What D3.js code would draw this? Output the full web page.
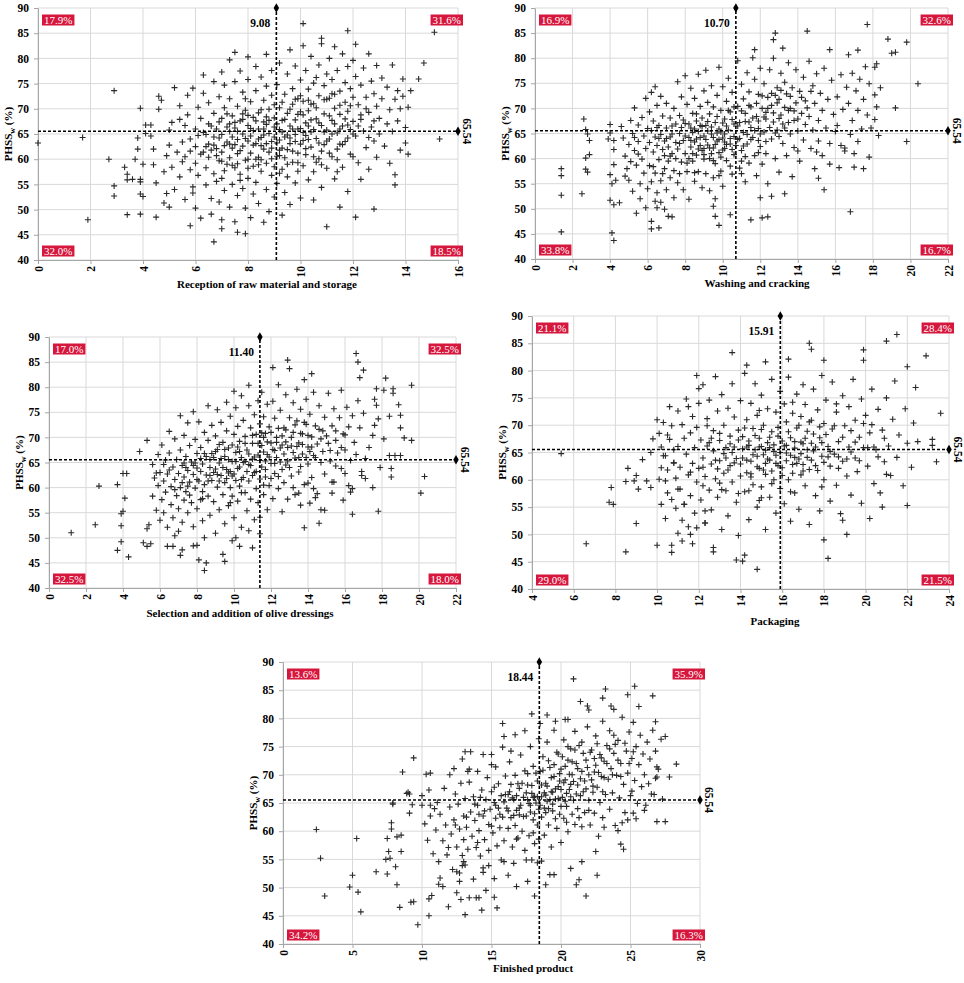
<!DOCTYPE html>
<html lang="en">
<head>
<meta charset="UTF-8">
<title>PHSSw vs stage scores</title>
<style>
  body { margin: 0; background: #fff; }
  svg text { font-family: "Liberation Serif", "DejaVu Serif", serif; }
</style>
</head>
<body>
<div id="wrapper"></div>
<script src="https://d3js.org/d3.v7.min.js"></script>
<script>
// ---- data ----
const yTicks = [40, 45, 50, 55, 60, 65, 70, 75, 80, 85, 90];
const receptionTicks = [0, 2, 4, 6, 8, 10, 12, 14, 16];
const washingTicks = [0, 2, 4, 6, 8, 10, 12, 14, 16, 18, 20, 22];
const selectionTicks = [0, 2, 4, 6, 8, 10, 12, 14, 16, 18, 20, 22];
const packagingTicks = [4, 6, 8, 10, 12, 14, 16, 18, 20, 22, 24];
const finishedTicks = [0, 5, 10, 15, 20, 25, 30];

const meanPHSS = 65.54;
const stageMeans = [9.08, 10.70, 11.40, 15.91, 18.44];
const stageTitles = ["Reception of raw material and storage", "Washing and cracking",
  "Selection and addition of olive dressings", "Packaging", "Finished product"];
// quadrant shares: top-left, top-right, bottom-left, bottom-right
const receptionShares = ["17.9%", "31.6%", "32.0%", "18.5%"];
const washingShares = ["16.9%", "32.6%", "33.8%", "16.7%"];
const selectionShares = ["17.0%", "32.5%", "32.5%", "18.0%"];
const packagingShares = ["21.1%", "28.4%", "29.0%", "21.5%"];
const finishedShares = ["13.6%", "35.9%", "34.2%", "16.3%"];

const receptionPoints = [
  [0.0,63.2],[1.7,64.3],[1.9,48.0],[2.9,73.6],[2.7,60.0],[2.9,54.7],[2.9,52.7],[3.4,49.0],[3.9,70.1],[15.1,85.2],[14.7,79.1],[14.5,75.9],[15.3,64.0],[10.1,86.9],[11.8,85.5],[10.8,84.0],[7.5,81.2],[6.7,43.6],[11.0,46.6],[12.8,50.1],[12.1,48.5],[11.5,50.5],[5.8,46.8],[7.6,45.5],[7.9,45.2],[7.0,46.2],[13.6,54.9],[14.0,63.2],[13.9,75.9],
  [3.3,58.4],[3.4,57.0],[3.6,56.0],[3.4,55.9],[3.7,60.0],[3.8,64.2],[3.8,62.0],[3.9,56.0],[3.9,53.1],[3.9,55.5],[3.9,49.1],[4.0,52.6],[4.0,59.0],[4.1,66.8],[4.1,65.1],
  [4.3,66.8],[4.3,64.6],[4.4,62.0],[4.4,58.9],[4.5,55.3],[4.6,69.9],[4.6,72.5],[4.7,71.7],[4.8,57.5],[4.9,60.7],[4.9,53.2],[5.0,65.8],[5.0,62.8],[5.0,50.5],[5.1,67.3],[5.1,58.4],[5.2,74.2],[5.2,54.0],[4.5,48.5],[4.8,51.3],
  [5.3,61.4],[5.4,70.6],[5.4,56.5],[5.5,63.4],[5.5,59.5],[5.6,66.7],[5.6,52.0],[5.7,72.7],[5.7,68.8],[5.8,64.0],[5.8,61.6],[5.8,57.9],[5.9,54.5],[5.9,74.1],[6.0,66.0],[6.0,62.5],[6.0,59.2],[6.0,50.3],[6.1,70.3],[6.1,64.7],[6.1,56.8],[6.2,48.3],[6.2,68.1],[6.2,61.0],[5.4,67.9],[5.6,60.5],[5.9,53.3],
  [6.3,76.7],[6.3,73.1],[6.3,65.3],[6.4,58.3],[6.4,54.9],[6.5,71.2],[6.5,67.0],[6.5,63.0],[6.5,60.4],[6.6,52.2],[6.6,49.1],[6.7,75.4],[6.7,69.1],[6.7,64.4],[6.7,57.1],[6.8,62.1],[6.8,55.6],[6.8,66.0],[6.9,72.4],[6.9,59.7],[6.9,51.5],[7.0,77.3],[7.0,68.1],[7.0,64.9],[7.0,61.4],[7.0,48.0],[7.1,74.7],[7.1,70.2],[7.1,57.7],[7.1,53.8],[7.2,66.4],[7.2,63.4],[6.4,62.5],[6.6,66.6],[6.8,60.7],[6.9,64.2],[7.0,56.2],[7.2,59.0],[6.3,61.4],
  [7.3,79.7],[7.3,72.0],[7.3,65.5],[7.3,60.3],[7.3,50.5],[7.4,68.6],[7.4,62.2],[7.4,55.0],[7.5,75.4],[7.5,66.2],[7.5,58.3],[7.5,47.6],[7.6,70.5],[7.6,63.9],[7.6,61.1],[7.6,52.8],[7.7,77.5],[7.7,67.6],[7.7,57.0],[7.8,73.3],[7.8,65.0],[7.8,62.6],[7.8,54.2],[7.9,69.7],[7.9,59.8],[7.9,50.3],[8.0,80.3],[8.0,75.8],[8.0,66.7],[8.0,63.6],[8.0,56.2],[8.1,71.4],[8.1,61.2],[8.1,48.4],[8.2,68.3],[8.2,58.6],[8.2,53.1],[7.4,64.4],[7.6,59.1],[7.8,67.9],[8.0,60.0],[8.1,64.6],[7.5,62.9],[7.7,55.8],[7.9,72.0],[8.2,65.7],
  [8.3,78.4],[8.3,73.6],[8.3,63.1],[8.3,55.4],[8.4,69.2],[8.4,66.0],[8.4,60.4],[8.4,51.2],[8.5,76.3],[8.5,64.3],[8.5,57.6],[8.6,71.7],[8.6,67.4],[8.6,62.0],[8.6,47.5],[8.7,80.8],[8.7,74.5],[8.7,59.2],[8.7,54.0],[8.8,69.9],[8.8,65.1],[8.8,61.4],[8.8,49.6],[8.9,77.6],[8.9,72.7],[8.9,63.5],[8.9,56.8],[9.0,68.2],[9.0,66.4],[9.0,58.5],[9.0,52.5],[8.5,62.7],[8.7,66.9],[8.9,60.1],[8.4,58.9],[8.6,64.8],
  [9.1,74.8],[9.1,63.2],[9.1,55.2],[9.2,79.1],[9.2,70.2],[9.2,65.9],[9.2,60.7],[9.3,67.7],[9.3,58.0],[9.3,48.9],[9.4,72.9],[9.4,64.4],[9.4,53.4],[9.5,76.9],[9.5,69.1],[9.5,61.9],[9.5,56.5],[9.6,81.7],[9.6,66.6],[9.6,63.1],[9.6,51.0],[9.7,74.0],[9.7,70.9],[9.7,59.4],[9.8,78.5],[9.8,67.8],[9.8,64.9],[9.8,55.3],[9.9,72.0],[9.9,61.2],[9.9,57.6],[10.0,75.7],[10.0,69.4],[10.0,66.1],[10.0,52.3],[9.3,62.2],[9.5,64.8],[9.7,66.0],[9.9,68.9],[9.2,57.2],
  [10.1,82.5],[10.1,71.5],[10.1,63.7],[10.1,58.7],[10.2,77.6],[10.2,67.2],[10.2,60.9],[10.3,73.9],[10.3,69.6],[10.3,55.9],[10.4,80.4],[10.4,65.4],[10.4,62.4],[10.5,75.1],[10.5,71.0],[10.5,57.5],[10.5,51.9],[10.6,68.0],[10.6,64.1],[10.7,78.7],[10.7,72.6],[10.7,60.1],[10.8,66.7],[10.8,54.4],[10.8,82.9],[10.9,74.6],[10.9,69.0],[10.9,62.9],[11.0,76.9],[11.0,65.8],[11.0,58.2],[10.2,64.7],[10.4,70.9],[10.6,76.2],[10.8,61.6],[11.0,71.9],[10.3,66.6],[10.6,59.4],
  [11.1,80.0],[11.1,72.1],[11.1,64.0],[11.2,75.8],[11.2,67.7],[11.2,60.5],[11.3,82.3],[11.3,70.1],[11.3,56.1],[11.4,77.6],[11.4,65.2],[11.4,62.0],[11.5,73.5],[11.5,68.9],[11.6,80.9],[11.6,66.6],[11.6,58.4],[11.7,75.2],[11.7,71.3],[11.7,63.5],[11.8,78.4],[11.8,69.5],[11.8,53.6],[11.9,74.0],[11.9,65.9],[11.9,61.0],[12.0,79.6],[12.0,72.3],[12.0,67.5],[11.2,73.0],[11.5,63.0],[11.8,66.8],[11.4,57.5],
  [12.1,82.8],[12.1,76.4],[12.1,64.6],[12.2,70.8],[12.2,59.3],[12.3,74.7],[12.3,67.9],[12.3,56.0],[12.4,78.1],[12.4,65.6],[12.5,72.3],[12.5,62.3],[12.6,80.9],[12.6,69.3],[12.6,58.0],[12.7,75.5],[12.7,66.4],[12.8,73.0],[12.8,63.6],[12.9,78.6],[12.9,70.5],[12.9,60.4],[13.0,68.1],[13.0,65.0],[12.2,66.6],[12.5,70.0],[12.8,67.6],
  [13.1,76.1],[13.1,72.0],[13.2,62.6],[13.3,74.3],[13.3,67.0],[13.4,69.8],[13.4,59.2],[13.5,78.7],[13.5,65.5],[13.6,71.9],[13.6,56.9],[13.7,73.6],[13.7,67.6],[13.8,70.0],[13.8,61.8],[13.9,72.5],[14.0,66.3],[14.1,70.3],[14.1,61.0],[14.2,73.6],
  [6.4,64.9],[6.6,61.8],[6.9,67.4],[7.1,62.7],[7.2,69.0],[7.3,63.0],[7.4,58.8],[7.5,67.3],[7.6,65.5],[7.7,61.7],[7.8,69.0],[7.9,64.1],[8.0,58.2],[8.1,66.1],[8.2,62.8],[8.3,67.6],[8.3,60.0],[8.4,64.0],[8.5,69.8],[8.5,59.9],[8.6,66.0],[8.7,63.1],[8.8,67.7],[8.9,62.2],[9.0,64.4],[9.0,70.8],[9.1,60.6],[9.1,67.0],[9.2,63.8],[9.3,71.3],[9.3,65.4],[9.4,60.3],[9.4,67.9],[9.5,59.0],[9.6,64.2],[9.6,69.9],[9.7,61.6],[9.8,63.5],[9.8,71.9],[9.9,66.0],[9.9,59.3],[10.0,63.0],[10.0,72.6],[10.1,65.3],[10.1,68.8],[10.2,62.1],[10.3,71.7],[10.3,63.9],[10.4,67.8],[10.5,60.5],[10.5,65.9],[10.6,70.2],[10.7,63.2],[10.7,67.2],[10.8,58.9],[10.9,65.4],[10.9,71.8],[11.0,63.6],[11.1,68.6],[11.1,61.2],[11.2,65.0],[11.3,72.9],[11.3,67.0],[11.4,59.9],[11.5,66.0],[11.5,70.7],[11.6,62.9],[11.7,68.0],[11.8,64.2],[11.9,70.6],[12.0,65.0],[12.0,60.5],[7.0,59.6],[6.7,62.8],[7.3,67.0],[8.0,68.7],[8.7,68.4],[9.2,61.8],[12.3,68.8],[12.6,64.3]
];

const washingPoints = [
  [1.4,58.0],[1.4,56.6],[1.4,52.7],[1.4,45.4],[2.5,53.0],[2.6,67.9],[2.7,65.8],[2.8,64.9],[2.9,63.6],[2.7,60.1],[2.9,60.8],[2.7,57.9],[2.8,57.3],[4.0,66.8],[3.9,63.9],[4.0,65.1],[4.2,63.6],[4.2,61.8],[4.0,56.8],[4.2,58.8],[4.3,55.7],[4.0,51.7],[4.2,50.8],[4.1,45.2],[4.2,43.7],[4.5,51.2],[4.1,55.0],
  [17.7,86.7],[20.4,74.9],[19.8,83.2],[18.8,83.8],[19.2,81.2],[19.0,81.0],[19.8,63.4],[16.8,49.4],[17.0,58.3],[17.8,60.3],[18.3,64.6],[18.1,67.8],[18.2,70.3],[18.1,72.7],[18.4,74.1],[18.1,78.2],[18.2,78.9],[19.2,70.1],
  [14.5,85.4],[12.8,85.0],[12.7,83.7],[11.7,81.7],[13.2,82.0],[15.7,81.7],[17.2,81.6],[16.7,80.7],
  [11.5,47.8],[12.1,48.2],[12.4,48.4],[9.8,46.7],[9.6,48.5],[10.4,48.8],[9.5,50.5],[6.2,47.5],[6.2,46.0],[6.6,46.2],[7.1,48.5],[7.3,48.4],[6.4,51.5],[6.7,51.3],[6.9,49.9],[6.5,50.2],[15.4,53.8],[16.5,62.1],[16.5,61.5],[15.1,56.1],[12.0,52.2],[12.6,52.5],[13.3,53.0],
  [4.6,66.4],[4.7,64.1],[4.8,60.5],[4.9,58.0],[5.0,62.8],[5.0,55.7],[5.1,67.6],[5.2,65.0],[5.2,53.5],[5.3,70.1],[5.3,61.6],[5.4,58.7],[5.4,49.1],[5.5,66.7],[5.5,63.4],[5.6,55.0],[5.6,52.0],[5.7,68.2],[5.7,59.9],[5.8,64.5],[5.8,57.1],[5.9,72.0],[5.9,62.0],[6.0,66.0],[6.0,54.0],[4.8,56.5],[5.1,59.4],[5.5,60.9],[5.9,50.2],[5.3,64.2],
  [6.1,69.3],[6.1,63.2],[6.1,58.6],[6.2,73.2],[6.2,65.6],[6.2,55.4],[6.3,67.5],[6.3,61.3],[6.4,74.3],[6.4,64.3],[6.4,57.1],[6.5,70.6],[6.5,62.6],[6.5,53.2],[6.6,66.6],[6.6,59.8],[6.7,72.4],[6.7,64.8],[6.7,55.6],[6.8,68.5],[6.8,61.8],[6.9,63.5],[6.9,58.0],[7.0,71.0],[7.0,66.1],[7.0,53.8],[7.1,62.3],[7.1,59.5],[7.2,68.1],[7.2,56.2],[7.3,64.9],[7.3,61.0],[7.4,70.0],[7.4,57.6],[7.5,66.9],[7.5,63.2],[6.3,58.4],[6.8,57.0],[7.2,60.5],[6.6,64.0],[7.4,52.2],
  [7.6,75.3],[7.6,61.9],[7.6,55.2],[7.7,68.6],[7.7,65.0],[7.8,72.3],[7.8,59.3],[7.9,63.6],[7.9,53.8],[8.0,76.5],[8.0,67.0],[8.0,61.0],[8.1,70.8],[8.1,57.4],[8.2,64.2],[8.2,51.9],[8.3,74.0],[8.3,66.1],[8.3,62.3],[8.4,69.0],[8.4,59.5],[8.5,72.0],[8.5,63.3],[8.5,55.5],[8.6,67.5],[8.6,60.7],[8.7,76.8],[8.7,65.4],[8.7,57.4],[8.8,70.4],[8.8,62.6],[8.9,68.1],[8.9,54.2],[9.0,73.5],[9.0,64.5],[9.0,59.9],[7.8,66.2],[8.2,60.0],[8.6,63.9],[8.9,61.6],[7.7,57.0],[8.4,65.2],[8.8,66.6],[9.0,62.0],
  [9.1,77.6],[9.1,66.6],[9.1,57.0],[9.2,71.2],[9.2,62.7],[9.3,68.9],[9.3,60.0],[9.3,53.6],[9.4,74.5],[9.4,64.9],[9.5,70.3],[9.5,62.1],[9.5,56.2],[9.6,67.2],[9.6,59.0],[9.7,72.6],[9.7,63.5],[9.8,78.2],[9.8,65.9],[9.8,61.2],[9.9,69.6],[9.9,57.5],[10.0,74.3],[10.0,64.1],[10.0,54.5],[10.1,67.9],[10.1,62.0],[10.2,71.4],[10.2,59.6],[10.3,76.0],[10.3,65.7],[10.4,69.3],[10.4,62.9],[10.5,73.2],[10.5,56.9],[10.6,66.9],[10.6,60.8],[9.4,61.0],[9.7,65.1],[10.1,63.3],[10.4,58.5],[9.2,65.5],[9.9,60.3],[10.6,64.4],[9.6,52.0],
  [10.8,79.5],[10.8,70.4],[10.8,63.8],[10.9,67.2],[10.9,58.1],[11.0,74.8],[11.0,61.6],[11.1,71.9],[11.1,65.2],[11.2,69.0],[11.2,55.4],[11.3,77.1],[11.3,62.9],[11.4,73.3],[11.4,67.3],[11.4,59.1],[11.5,70.3],[11.6,80.1],[11.6,64.2],[11.7,75.8],[11.7,60.6],[11.8,68.4],[11.8,56.6],[11.9,72.8],[11.9,66.0],[12.0,78.0],[12.0,62.4],[12.1,70.0],[12.1,58.9],[12.2,74.9],[12.2,65.3],[12.3,67.9],[12.3,61.0],[12.4,72.2],[12.4,55.0],[12.5,77.7],[11.2,60.4],[11.5,66.2],[11.9,63.6],[12.3,69.2],[11.0,57.0],
  [12.6,70.6],[12.6,63.9],[12.7,80.0],[12.7,67.3],[12.8,60.0],[12.9,74.1],[12.9,65.7],[13.0,71.8],[13.0,57.3],[13.1,77.0],[13.1,68.7],[13.2,63.0],[13.3,75.2],[13.3,66.1],[13.4,72.9],[13.4,60.6],[13.5,79.1],[13.5,69.6],[13.6,64.9],[13.7,74.1],[13.7,56.4],[13.8,67.6],[13.8,62.2],[13.9,77.7],[13.9,71.1],[14.0,65.5],[14.1,73.4],[14.1,59.5],[14.2,69.0],[14.3,76.2],[14.3,63.7],[14.4,71.5],[14.4,66.8],[13.0,64.4],[13.6,70.0],[14.0,61.5],[12.8,72.6],
  [14.6,79.4],[14.6,68.4],[14.7,62.0],[14.8,74.5],[14.8,65.7],[14.9,71.0],[14.9,58.0],[15.0,76.9],[15.1,67.6],[15.1,63.5],[15.2,73.0],[15.3,69.6],[15.3,60.6],[15.4,78.0],[15.5,66.1],[15.6,71.8],[15.7,63.0],[15.8,75.6],[15.9,68.8],[16.0,65.4],[16.1,72.3],[16.2,58.2],[16.3,76.7],[16.3,62.6],[16.4,69.8],[15.0,61.3],[15.7,58.9],[16.1,66.6],
  [16.6,74.2],[16.7,71.0],[16.8,64.8],[16.9,77.0],[16.9,67.6],[17.0,61.0],[17.1,73.5],[17.2,69.6],[17.3,75.8],[17.4,65.9],[17.5,71.8],[17.6,78.3],[17.7,68.7],[17.8,74.9],[17.9,66.1],[17.2,63.4],[17.5,58.0],
  [7.0,64.0],[7.3,66.5],[7.5,60.0],[7.7,63.0],[7.9,67.7],[8.0,64.5],[8.1,59.1],[8.2,66.9],[8.3,63.6],[8.4,61.0],[8.5,65.9],[8.6,68.9],[8.7,61.9],[8.8,64.2],[8.9,66.4],[9.0,60.8],[9.1,63.8],[9.2,67.4],[9.3,62.1],[9.4,66.3],[9.5,64.2],[9.5,59.6],[9.6,62.8],[9.7,68.4],[9.8,63.8],[9.9,65.3],[10.0,61.7],[10.0,67.1],[10.1,64.9],[10.2,66.5],[10.2,62.8],[10.3,69.6],[10.4,64.0],[10.5,61.8],[10.5,67.8],[10.6,70.3],[10.7,62.6],[10.8,66.5],[10.9,64.0],[11.0,69.5],[11.1,62.5],[11.2,67.4],[11.3,64.8],[11.4,70.6],[11.5,63.8],[11.6,68.1],[11.7,65.6],[11.8,71.0],[11.9,67.5],[12.0,64.9],[12.1,72.5],[12.2,68.3],[12.3,63.4],[12.4,70.0],[12.5,66.2],[12.6,73.0],[12.7,69.1],[12.8,65.1],[12.9,71.1],[13.0,68.0],[13.1,73.6],[13.2,66.9],[13.3,70.2],[13.5,67.2],[13.6,72.4],[13.8,69.5],[14.0,67.9],[14.2,72.2],[14.5,70.1],[14.7,73.4],[6.5,66.2],[6.9,60.6],[7.2,64.3],[11.0,59.5],[11.9,61.2],[8.5,57.2],[9.8,56.6]
];

const selectionPoints = [
  [1.2,51.0],[2.5,52.6],[2.7,60.3],[3.7,60.6],[3.7,47.5],[3.9,49.2],[3.9,52.4],[3.9,54.8],[4.0,55.3],[4.0,62.8],[4.2,62.8],[4.1,57.9],[4.3,46.2],[4.9,67.2],[5.1,49.0],[5.3,69.4],[5.3,48.3],[5.5,48.8],[5.3,51.8],[5.4,52.6],
  [16.6,86.7],[16.7,85.0],[17.0,83.4],[16.8,81.9],[12.9,85.4],[13.0,83.7],[12.1,83.9],[14.2,82.7],[13.8,81.5],[19.6,80.4],[18.2,81.8],[18.6,79.7],[17.7,79.7],[20.3,62.2],[20.1,58.9],[17.8,55.3],[16.4,54.7],[14.6,52.9],[13.8,52.0],[10.0,79.2],[10.8,80.4],[19.6,69.4],[19.2,69.9],
  [8.4,43.5],[8.5,45.0],[8.1,45.6],[9.5,45.3],[9.4,46.7],[8.0,48.5],[8.4,50.0],[6.8,50.4],[6.4,48.3],[6.7,48.3],[7.1,46.5],[7.2,47.6],[7.8,48.4],[9.9,49.4],[10.1,50.0],[10.3,48.3],[11.0,48.0],[10.8,51.4],[11.4,50.8],[11.4,54.1],
  [5.6,64.6],[5.6,58.3],[5.7,61.9],[5.8,55.5],[5.9,66.6],[5.9,60.4],[6.0,63.0],[6.0,53.5],[6.1,57.6],[6.1,68.5],[6.2,61.3],[6.2,55.0],[6.3,65.5],[6.3,59.1],[6.4,62.7],[6.4,52.1],[6.5,71.2],[6.5,66.9],[6.6,60.2],[6.6,56.6],[6.7,64.1],[6.7,54.0],[6.8,69.7],[6.8,61.6],[6.9,58.4],[6.9,65.6],[7.0,62.8],[7.0,55.8],[5.8,62.9],[6.2,64.6],[6.5,63.5],[6.8,59.6],[7.0,51.3],
  [7.1,74.3],[7.1,67.5],[7.1,60.0],[7.2,64.4],[7.2,53.1],[7.3,70.4],[7.3,62.1],[7.3,57.5],[7.4,66.2],[7.4,59.2],[7.5,72.9],[7.5,63.4],[7.5,55.0],[7.6,68.4],[7.6,61.1],[7.7,65.1],[7.7,57.0],[7.8,75.1],[7.8,62.6],[7.8,52.2],[7.9,69.6],[7.9,59.9],[8.0,66.8],[8.0,63.9],[8.0,55.8],[8.1,73.1],[8.1,61.3],[8.2,68.0],[8.2,57.6],[8.3,64.7],[8.3,53.4],[8.4,71.0],[8.4,60.6],[8.5,66.2],[8.5,62.5],[7.4,64.0],[7.9,64.9],[8.3,59.2],[7.6,58.5],[8.2,65.8],[7.2,61.0],
  [8.6,76.3],[8.6,69.4],[8.6,58.3],[8.7,64.0],[8.7,54.5],[8.8,72.4],[8.8,66.8],[8.8,61.4],[8.9,57.2],[9.0,70.3],[9.0,63.7],[9.0,50.9],[9.1,75.5],[9.1,67.6],[9.1,60.1],[9.2,64.9],[9.2,55.6],[9.3,73.0],[9.3,62.4],[9.4,69.0],[9.4,58.6],[9.5,66.2],[9.5,61.0],[9.5,52.8],[9.6,77.0],[9.6,71.3],[9.6,63.6],[9.7,67.9],[9.7,56.4],[9.8,74.2],[9.8,60.0],[9.9,65.2],[9.9,62.3],[10.0,70.6],[10.0,54.0],[8.9,66.0],[9.3,65.8],[9.7,62.9],[9.2,68.6],[8.7,62.4],[9.9,58.3],
  [10.1,75.9],[10.1,67.0],[10.1,61.4],[10.2,72.2],[10.2,57.3],[10.3,69.2],[10.3,64.1],[10.4,78.3],[10.4,66.0],[10.4,52.1],[10.5,73.4],[10.5,62.0],[10.6,70.2],[10.6,59.0],[10.7,67.5],[10.7,55.4],[10.8,76.3],[10.8,64.6],[10.8,61.3],[10.9,71.9],[10.9,57.7],[11.0,68.8],[11.0,65.7],[11.1,74.5],[11.1,63.0],[11.1,53.6],[11.2,70.6],[11.2,59.8],[11.3,77.3],[11.3,66.5],[11.4,72.7],[11.4,61.7],[10.3,60.3],[10.6,65.2],[11.0,62.4],[10.2,68.1],[11.3,57.0],
  [11.5,79.0],[11.5,68.4],[11.5,64.1],[11.6,74.1],[11.6,58.6],[11.7,70.8],[11.7,62.1],[11.8,76.6],[11.8,66.6],[11.8,55.6],[11.9,72.1],[11.9,60.4],[12.0,68.9],[12.0,64.8],[12.1,77.2],[12.1,57.8],[12.2,73.8],[12.2,62.8],[12.3,70.0],[12.3,66.0],[12.4,80.5],[12.4,59.8],[12.5,75.4],[12.5,67.9],[12.6,63.6],[12.6,55.2],[12.7,71.9],[12.7,61.0],[12.8,78.5],[12.8,69.1],[12.9,65.3],[12.9,57.7],[13.0,73.9],[11.7,65.3],[12.2,67.4],[12.6,70.3],[12.0,61.8],[12.8,64.5],[11.6,70.0],
  [13.1,68.3],[13.1,62.3],[13.2,76.9],[13.2,71.0],[13.3,65.9],[13.3,58.6],[13.4,79.6],[13.4,73.3],[13.5,68.9],[13.5,63.1],[13.6,75.6],[13.6,56.5],[13.7,70.7],[13.7,66.7],[13.8,60.6],[13.9,77.6],[13.9,72.6],[14.0,68.1],[14.0,64.7],[14.1,74.6],[14.2,70.1],[14.2,62.0],[14.3,79.0],[14.3,66.4],[14.4,72.3],[14.5,68.7],[14.5,58.8],[14.6,76.3],[14.7,65.0],[14.8,71.3],[14.9,74.0],[14.9,62.7],[13.6,64.2],[14.1,67.2],[14.7,69.7],[13.2,60.0],
  [15.1,78.8],[15.1,68.8],[15.2,65.3],[15.3,72.3],[15.4,75.7],[15.4,61.1],[15.5,69.4],[15.6,66.9],[15.7,73.9],[15.8,79.4],[15.8,63.8],[15.9,70.7],[16.0,67.5],[16.1,76.0],[16.2,72.1],[16.2,60.4],[16.3,65.4],[16.4,74.3],[16.5,69.0],[16.6,66.6],[16.7,77.3],[16.8,71.9],[16.9,63.2],[17.0,74.8],[15.5,64.3],[16.0,62.8],
  [17.8,73.7],[18.4,74.2],[18.9,76.5],[19.0,74.4],[19.0,71.9],[18.1,79.4],[18.6,78.8],[17.6,77.6],[17.7,76.4],[17.6,72.4],[18.1,69.7],[18.4,66.4],[18.7,66.4],[19.0,66.4],[18.5,63.8],[18.5,62.1],[17.9,64.0],[17.5,60.0],[17.1,65.8],[17.1,61.8],[16.9,62.4],[16.4,59.8],[15.9,57.5],[16.3,59.1],[14.7,55.6],[14.9,55.5],[14.3,59.8],[14.4,58.0],[13.5,58.9],[14.0,60.9],[14.1,56.9],[15.3,58.9],[15.3,61.1],[17.3,68.0],[17.5,70.4],
  [7.5,60.3],[7.8,64.4],[8.0,61.6],[8.2,63.2],[8.4,66.8],[8.6,61.3],[8.7,65.6],[8.9,63.0],[9.0,67.2],[9.1,62.6],[9.2,61.3],[9.4,64.0],[9.5,67.6],[9.6,61.8],[9.7,65.6],[9.8,63.2],[9.9,68.5],[10.0,62.7],[10.1,65.2],[10.2,63.8],[10.3,67.2],[10.4,61.6],[10.5,65.0],[10.6,68.8],[10.7,63.2],[10.8,66.7],[10.9,64.4],[11.0,70.4],[11.1,66.1],[11.2,63.2],[11.3,68.8],[11.4,65.4],[11.5,70.9],[11.6,67.1],[11.7,63.6],[11.8,69.1],[11.9,66.1],[12.0,71.0],[12.1,67.6],[12.2,64.8],[12.3,69.0],[12.4,71.8],[12.5,65.1],[12.6,68.5],[12.7,66.7],[12.8,71.5],[12.9,68.0],[13.0,64.0],[13.1,70.0],[13.2,67.0],[13.3,72.5],[13.4,68.2],[13.5,66.0],[13.6,70.8],[13.7,68.6],[13.8,73.0],[13.9,66.0],[14.0,70.4],[14.2,68.1],[14.4,66.0],[14.6,71.6],[14.8,67.2],[15.0,70.3],[15.2,67.4],[15.5,71.3],[15.8,68.0],[16.0,70.5],[10.4,59.0],[9.8,57.0],[11.6,60.5],[12.4,62.2],[8.3,57.8],[7.3,64.9]
];

const packagingPoints = [
  [5.4,64.8],[6.6,48.3],[8.5,46.8],[7.8,58.6],[7.7,55.9],[7.9,55.5],[8.6,62.1],[8.5,59.7],[9.0,60.8],[9.0,52.0],[10.0,48.0],[10.7,48.0],[10.7,46.7],[11.2,48.8],[11.7,48.3],[12.7,47.6],[12.7,46.8],[13.8,45.3],[14.1,45.1],[14.8,43.6],[14.2,46.2],[18.2,45.6],[18.0,49.0],[19.1,50.0],[18.9,52.6],[20.2,52.9],[20.8,55.0],[22.0,55.3],[23.4,63.3],[23.6,72.2],[23.2,67.4],[23.2,66.3],[22.9,82.7],[21.5,86.6],[21.0,85.4],[22.0,80.7],[22.4,76.9],[19.9,83.8],[19.9,81.9],[17.3,85.0],[17.4,83.9],[18.0,81.9],[13.6,83.3],[14.3,81.0],[15.2,81.6],[16.3,82.1],[11.9,79.1],[12.0,76.7],[10.6,73.4],[10.1,68.5],[11.5,73.4],
  [10.2,66.0],[10.3,70.5],[10.4,64.4],[10.5,61.8],[10.5,57.6],[10.6,67.4],[10.7,69.9],[10.8,63.1],[10.9,60.3],[10.9,54.8],[11.0,72.6],[11.0,66.1],[11.1,58.3],[11.1,62.3],[11.2,70.1],[11.2,52.6],[11.3,67.6],[11.3,55.5],[11.4,64.7],[11.4,74.8],[11.5,60.9],[11.5,51.4],[11.6,68.6],[11.6,57.1],[11.7,63.0],[11.7,71.6],[11.8,65.9],[11.8,53.9],[11.9,59.6],[11.9,69.6],[12.0,62.1],[12.0,74.0],[10.4,59.8],[10.2,62.2],[10.7,56.4],[11.0,50.2],[11.6,61.4],[10.8,65.5],
  [12.1,67.3],[12.1,56.3],[12.2,64.0],[12.2,77.4],[12.3,60.6],[12.3,52.1],[12.4,71.2],[12.4,66.2],[12.5,58.1],[12.5,74.6],[12.6,62.9],[12.6,54.5],[12.7,69.0],[12.7,65.3],[12.8,60.2],[12.8,78.9],[12.9,72.6],[12.9,56.8],[13.0,67.2],[13.0,63.5],[13.1,50.9],[13.1,75.6],[13.2,61.2],[13.2,70.0],[13.3,65.9],[13.3,58.0],[13.4,73.1],[13.4,53.4],[13.5,68.0],[13.5,62.6],[13.6,77.6],[13.6,59.6],[13.7,66.0],[13.7,71.5],[13.8,55.9],[13.8,63.9],[13.9,69.1],[13.9,49.8],[14.0,74.5],[14.0,60.7],[12.2,58.9],[12.6,67.6],[13.0,59.4],[13.3,64.0],[13.6,65.0],[12.9,62.0],[13.9,57.5],
  [14.1,67.9],[14.1,64.0],[14.2,79.5],[14.2,57.8],[14.3,71.0],[14.3,61.3],[14.4,66.3],[14.4,52.7],[14.5,74.0],[14.5,63.4],[14.6,69.4],[14.6,59.1],[14.7,77.6],[14.7,65.5],[14.8,55.0],[14.8,71.8],[14.9,62.1],[14.9,67.6],[15.0,75.5],[15.0,58.7],[15.1,64.6],[15.1,70.0],[15.2,50.9],[15.2,61.0],[15.3,73.0],[15.3,66.8],[15.4,56.8],[15.4,63.6],[15.5,78.4],[15.5,68.8],[15.6,60.0],[15.6,65.2],[15.7,72.4],[15.7,53.9],[15.8,62.6],[15.8,69.6],[15.9,76.2],[15.9,58.4],[14.3,66.0],[14.8,64.3],[15.0,66.1],[15.4,65.9],[14.5,61.1],[15.2,63.0],[15.7,64.5],[14.9,56.2],
  [16.0,67.1],[16.0,62.2],[16.1,73.9],[16.1,55.6],[16.2,70.6],[16.2,64.9],[16.3,60.0],[16.3,78.8],[16.4,67.7],[16.4,52.4],[16.5,72.2],[16.5,62.8],[16.6,65.8],[16.6,57.6],[16.7,75.7],[16.7,69.5],[16.8,63.8],[16.8,54.6],[16.9,71.6],[16.9,60.9],[17.0,66.6],[17.0,77.4],[17.1,58.9],[17.1,73.8],[17.2,64.1],[17.2,68.9],[17.3,61.9],[17.3,51.8],[17.4,70.9],[17.5,65.3],[17.5,76.6],[17.6,57.1],[17.6,62.6],[17.7,72.8],[17.8,67.7],[17.8,54.3],[17.9,79.1],[17.9,64.3],[16.2,66.3],[16.6,64.1],[17.0,62.8],[17.4,66.7],[16.9,66.9],
  [18.0,70.3],[18.0,60.0],[18.1,74.6],[18.2,66.1],[18.3,62.5],[18.3,56.1],[18.4,77.9],[18.4,69.3],[18.5,64.7],[18.6,72.4],[18.6,59.0],[18.7,67.0],[18.8,53.8],[18.9,75.4],[18.9,63.4],[19.0,69.9],[19.1,60.7],[19.2,73.4],[19.2,66.0],[19.3,57.2],[19.4,78.4],[19.5,64.0],[19.5,70.9],[19.6,61.5],[19.7,67.8],[19.8,74.8],[19.8,55.7],[19.9,65.9],[18.2,64.2],[18.7,62.1],[19.3,65.1],
  [20.0,71.8],[20.1,62.5],[20.2,68.6],[20.3,76.6],[20.4,59.3],[20.5,65.5],[20.6,72.9],[20.7,57.6],[20.8,69.1],[20.9,63.3],[21.0,75.0],[21.1,66.2],[21.2,60.8],[21.3,71.1],[21.4,78.1],[21.5,64.1],[21.6,68.2],[21.8,58.9],[21.9,73.0],[22.0,66.7],[22.2,62.3],[22.3,70.4],[22.5,67.0],[20.4,66.0],[21.0,61.0],
  [9.1,58.3],[9.5,59.8],[9.7,58.6],[8.9,59.8],[10.1,60.1],[10.3,64.4],[9.7,65.0],[10.8,63.1],[10.2,55.5],[11.3,55.5],[11.0,58.3],[10.4,52.9],[11.6,50.0],[11.9,51.2],[12.3,52.1],[12.3,54.3],[9.3,63.7],[9.8,67.5],[10.0,71.0],[10.5,68.2],
  [12.2,62.3],[12.5,66.8],[12.8,63.6],[13.0,68.5],[13.2,64.8],[13.4,61.8],[13.5,66.6],[13.7,63.1],[13.9,67.3],[14.0,62.9],[14.1,65.7],[14.2,69.5],[14.3,63.6],[14.4,67.1],[14.5,60.5],[14.6,64.6],[14.7,68.1],[14.8,62.4],[14.9,66.0],[15.0,69.2],[15.1,61.8],[15.2,65.4],[15.3,63.8],[15.4,67.8],[15.5,61.6],[15.6,66.4],[15.7,63.0],[15.8,68.0],[15.9,65.0],[16.0,60.8],[16.1,66.2],[16.2,63.5],[16.3,68.8],[16.4,64.5],[16.5,61.2],[16.6,67.0],[16.7,63.0],[16.8,70.0],[16.9,64.8],[17.0,61.6],[17.1,67.6],[17.2,65.5],[17.3,70.6],[17.4,63.6],[17.5,68.4],[17.6,66.0],[17.7,61.7],[17.8,69.7],[17.9,66.8],[18.0,63.2],[18.1,68.3],[18.3,65.2],[18.5,69.9],[18.7,64.2],[18.9,67.8],[19.1,63.8],[19.3,69.0],[19.5,66.9],[19.7,63.5],[19.9,70.3],[20.1,65.9],[20.3,70.1],[20.6,64.2],[20.9,67.6],[14.4,58.0],[15.0,56.7],[15.5,59.3],[16.4,57.8],[13.1,58.2],[12.4,69.9],[14.9,72.7],[16.5,74.2],[18.6,73.9],[17.9,58.7]
];

const finishedPoints = [
  [20.9,87.0],[25.3,85.7],[23.2,85.2],[23.0,83.6],[24.8,84.2],[26.6,84.0],[21.4,83.0],[21.9,82.2],[22.0,81.5],[25.6,82.1],[23.6,82.2],[23.8,81.6],[17.9,80.8],[19.0,80.6],[15.8,79.1],[18.5,79.1],[19.6,79.5],[20.3,79.8],[20.5,79.8],[26.8,79.4],[27.5,76.8],[28.3,71.9],[27.8,69.6],[26.9,69.6],[15.9,76.8],[16.7,77.1],[17.4,77.8],
  [9.4,73.0],[8.6,70.5],[8.9,66.7],[9.0,66.9],[10.3,70.1],[10.6,70.3],[12.0,70.0],[12.3,71.1],[12.9,72.8],[13.1,74.1],[13.5,74.1],[13.4,71.0],[13.3,70.6],[14.4,73.6],[15.0,73.6],[15.0,71.8],[15.3,71.4],[15.8,74.9],[16.4,74.2],[10.5,67.3],[10.0,66.3],[7.9,65.0],[9.3,64.7],[10.0,64.6],[10.6,64.6],
  [2.4,60.3],[2.7,55.2],[3.0,48.5],[5.0,52.2],[4.8,50.1],[5.4,49.2],[5.6,45.7],[5.3,58.7],[7.9,64.8],[9.1,63.2],[9.1,66.6],[7.8,61.5],[7.8,60.4],[7.5,58.7],[8.2,59.0],[8.5,59.3],[7.6,56.4],[8.5,56.4],[7.4,55.0],[7.7,55.2],[6.7,52.8],[7.5,52.4],[8.1,53.7],[8.2,50.5],[8.4,46.5],[9.2,47.4],[9.4,47.5],[9.7,43.4],[10.5,45.0],[10.5,48.0],[10.7,48.6],[11.9,46.6],[12.5,49.1],[12.8,47.9],[13.1,45.2],[13.4,48.2],[13.9,48.2],[14.1,48.2],[14.3,46.0],[14.6,49.5],[15.2,48.3],[15.4,46.4],[13.7,51.5],[12.7,51.1],[11.3,51.7],[11.5,50.2],[11.2,50.6],[12.5,52.8],[12.7,52.6],[13.0,54.6],[13.1,54.0],[12.9,53.9],[14.4,53.5],[14.4,52.7],[14.8,53.9],[15.2,51.6],[16.2,52.2],[16.8,50.2],[17.6,51.1],[18.1,48.5],[18.9,50.5],[19.2,52.3],[19.5,52.3],[20.7,53.4],[21.1,50.5],[21.3,51.4],[21.8,48.5],[22.6,52.2],[21.5,54.6],[22.5,56.4],[24.5,56.8],[24.3,57.7],[23.1,60.7],[24.1,60.1],[24.8,62.0],[26.9,61.7],[27.5,61.7],[27.3,65.7],[26.5,66.6],[26.0,63.7],[25.2,63.2],[26.8,69.4],[26.9,71.4],[25.1,67.1],[26.1,64.6],[17.5,54.9],[17.9,54.9],[18.6,54.7],[18.3,54.4],[15.7,54.9],[15.9,54.6],[16.6,54.3],
  [10.2,61.3],[10.4,58.4],[10.6,62.7],[10.8,56.0],[11.0,60.2],[11.1,65.1],[11.2,54.6],[11.3,63.0],[11.5,58.3],[11.6,67.6],[11.7,61.1],[11.8,55.8],[12.0,64.3],[12.1,59.5],[12.2,53.2],[12.3,62.0],[12.4,66.6],[12.5,57.2],[12.6,64.8],[12.7,60.4],[12.8,68.5],[12.9,55.7],[13.0,62.7],[13.0,58.5],[10.9,64.0],[11.9,57.1],[12.4,61.1],
  [13.1,65.8],[13.2,60.7],[13.3,56.8],[13.4,68.7],[13.5,63.4],[13.6,59.1],[13.7,66.1],[13.8,61.9],[13.9,57.1],[14.0,70.6],[14.0,64.6],[14.1,60.1],[14.2,55.6],[14.3,67.3],[14.4,62.7],[14.5,58.5],[14.6,65.6],[14.7,69.5],[14.8,61.2],[14.8,56.6],[14.9,63.9],[15.0,67.0],[15.1,59.7],[15.2,65.1],[15.3,62.3],[15.4,57.4],[15.5,68.4],[15.5,64.1],[15.6,60.6],[15.7,66.3],[15.8,62.5],[15.9,58.3],[16.0,69.8],[13.2,62.5],[13.8,64.8],[14.5,63.6],[15.3,64.6],[14.0,58.0],[15.9,65.2],[14.2,66.0],
  [16.1,64.1],[16.2,60.5],[16.3,72.3],[16.3,67.0],[16.4,62.4],[16.5,57.2],[16.6,65.6],[16.7,69.9],[16.7,61.0],[16.8,63.7],[16.9,58.8],[17.0,67.6],[17.1,73.5],[17.1,64.6],[17.2,60.0],[17.3,66.0],[17.4,70.7],[17.4,56.6],[17.5,62.7],[17.6,68.2],[17.7,64.9],[17.7,59.2],[17.8,75.0],[17.9,66.7],[18.0,62.0],[18.0,71.5],[18.1,57.8],[18.2,65.0],[18.3,68.9],[18.3,61.1],[18.4,76.4],[18.4,63.9],[16.5,65.9],[17.0,62.9],[17.6,65.6],[18.1,66.2],[16.9,68.4],[17.8,63.4],[16.2,66.5],[18.4,58.6],
  [18.5,70.6],[18.6,66.1],[18.6,62.5],[18.7,73.2],[18.8,64.1],[18.8,59.3],[18.9,68.5],[19.0,75.8],[19.0,65.3],[19.1,61.1],[19.2,71.3],[19.3,67.0],[19.3,57.2],[19.4,63.6],[19.5,77.9],[19.5,69.7],[19.6,65.7],[19.7,60.5],[19.8,73.7],[19.8,67.9],[19.9,63.0],[20.0,71.0],[20.0,58.0],[20.1,66.0],[20.2,76.2],[20.2,62.3],[20.3,69.1],[20.4,64.4],[20.5,72.6],[20.5,59.9],[20.6,67.4],[20.7,74.6],[20.8,63.0],[20.8,70.0],[20.9,65.5],[21.0,61.2],[21.0,77.7],[18.9,66.4],[19.4,66.9],[19.9,68.9],[20.3,65.3],[20.7,68.3],[19.1,64.0],[20.0,64.4],
  [21.1,72.0],[21.2,68.2],[21.2,64.0],[21.3,75.2],[21.4,66.3],[21.5,60.8],[21.5,70.6],[21.6,73.8],[21.7,63.3],[21.8,67.5],[21.9,78.5],[21.9,71.3],[22.0,65.5],[22.1,61.1],[22.2,74.4],[22.2,69.1],[22.3,66.9],[22.4,63.2],[22.5,76.9],[22.5,71.7],[22.6,67.8],[22.7,59.1],[22.8,73.6],[22.8,65.1],[22.9,69.7],[23.0,79.5],[23.0,62.4],[23.1,72.4],[23.2,66.5],[23.3,75.2],[23.4,69.2],[23.5,63.9],[23.5,77.8],[23.6,71.1],[23.7,66.8],[23.8,73.8],[23.9,61.0],[24.0,69.9],[21.7,68.9],[22.4,70.5],[23.0,67.0],[21.3,62.4],[23.8,77.0],
  [24.1,76.1],[24.2,65.9],[24.3,72.0],[24.4,80.2],[24.5,68.3],[24.6,63.3],[24.7,74.2],[24.8,70.3],[24.9,77.6],[25.0,66.3],[25.1,72.9],[25.2,79.3],[25.3,69.0],[25.4,75.0],[25.5,64.9],[25.6,71.8],[25.7,77.0],[25.8,67.9],[25.9,73.7],[26.0,70.0],[26.2,75.8],[26.3,68.4],[26.4,72.8],[26.6,77.9],[26.7,66.5],[26.8,74.2],[27.0,71.0],[27.2,76.3],[24.4,61.5],[25.4,62.2],
  [15.2,67.8],[15.6,63.0],[16.0,66.5],[16.2,63.6],[16.4,68.3],[16.6,62.8],[16.8,66.3],[17.0,64.1],[17.2,68.5],[17.3,62.6],[17.5,66.8],[17.6,70.2],[17.8,64.6],[17.9,68.1],[18.0,66.0],[18.1,63.1],[18.2,70.3],[18.3,66.1],[18.5,64.6],[18.6,68.2],[18.7,70.8],[18.8,66.8],[18.9,63.3],[19.0,68.0],[19.1,72.5],[19.2,65.6],[19.3,69.5],[19.4,64.8],[19.5,71.8],[19.6,67.5],[19.7,74.0],[19.8,65.8],[19.9,70.2],[20.0,67.4],[20.1,73.2],[20.2,68.6],[20.3,71.5],[20.4,66.7],[20.5,75.0],[20.6,70.1],[20.7,66.1],[20.8,72.3],[20.9,68.8],[21.0,74.4],[21.1,66.6],[21.2,71.1],[21.4,69.3],[21.5,75.8],[21.6,67.0],[21.8,72.6],[22.0,70.0],[22.1,74.0],[22.3,68.0],[22.4,72.9],[22.6,75.5],[22.7,70.4],[22.9,73.0],[23.1,69.5],[23.3,72.0],[23.5,74.6],[23.7,70.0],[23.9,75.4],[24.1,72.6],[24.3,69.7],[24.6,75.6],[24.9,72.0],[25.2,74.1],[19.6,62.2],[18.0,59.7],[16.8,58.6],[20.4,61.6],[22.0,63.7],[15.0,60.9],[14.1,63.0]
];

// ---- layout of the five panels (pixels) ----
const panels = [
  { points: receptionPoints, ticks: receptionTicks, mean: stageMeans[0], title: stageTitles[0], shares: receptionShares,
    left: 38, right: 458, top: 8, bottom: 260, titleX: 267, titleY: 288 },
  { points: washingPoints, ticks: washingTicks, mean: stageMeans[1], title: stageTitles[1], shares: washingShares,
    left: 535, right: 948, top: 8, bottom: 259, titleX: 757, titleY: 287 },
  { points: selectionPoints, ticks: selectionTicks, mean: stageMeans[2], title: stageTitles[2], shares: selectionShares,
    left: 49, right: 456, top: 337, bottom: 588, titleX: 240, titleY: 617 },
  { points: packagingPoints, ticks: packagingTicks, mean: stageMeans[3], title: stageTitles[3], shares: packagingShares,
    left: 532, right: 949, top: 316, bottom: 589, titleX: 775, titleY: 625 },
  { points: finishedPoints, ticks: finishedTicks, mean: stageMeans[4], title: stageTitles[4], shares: finishedShares,
    left: 283, right: 700, top: 662, bottom: 944, titleX: 533, titleY: 972 }
];

const svg = d3.select("#wrapper").append("svg")
  .attr("width", 964)
  .attr("height", 983);

const diamond = d3.symbol().type(d3.symbolDiamond).size(26);

function drawPanel(p) {
  const xScale = d3.scaleLinear().domain(d3.extent(p.ticks)).range([p.left, p.right]);
  const yScale = d3.scaleLinear().domain([40, 90]).range([p.bottom, p.top]);
  const g = svg.append("g");

  // grid
  g.append("g").selectAll("line").data(yTicks).join("line")
    .attr("x1", p.left).attr("x2", p.right)
    .attr("y1", d => yScale(d)).attr("y2", d => yScale(d))
    .attr("stroke", "#d9d9d9").attr("stroke-width", 1);
  g.append("g").selectAll("line").data(p.ticks).join("line")
    .attr("x1", d => xScale(d)).attr("x2", d => xScale(d))
    .attr("y1", p.top).attr("y2", p.bottom)
    .attr("stroke", "#d9d9d9").attr("stroke-width", 1);

  // axes
  const yAxis = g.append("g")
    .attr("transform", `translate(${p.left},0)`)
    .call(d3.axisLeft(yScale).tickValues(yTicks).tickSize(4).tickSizeOuter(0).tickPadding(5));
  const xAxis = g.append("g")
    .attr("transform", `translate(0,${p.bottom})`)
    .call(d3.axisBottom(xScale).tickValues(p.ticks).tickSize(4).tickSizeOuter(0));
  [yAxis, xAxis].forEach(a => {
    a.select(".domain").attr("stroke", "#a6a6a6");
    a.selectAll(".tick line").attr("stroke", "#a6a6a6");
    a.selectAll("text")
      .attr("font-family", "'Liberation Serif', serif")
      .attr("font-size", 11.5).attr("font-weight", "bold").attr("fill", "#000");
  });
  xAxis.selectAll("text")
    .attr("transform", "rotate(-90)")
    .attr("text-anchor", "end")
    .attr("x", -6).attr("y", 0).attr("dy", "0.35em");

  // points
  g.append("g").selectAll("path").data(p.points).join("path")
    .attr("d", "M-3,0H3M0,-3V3")
    .attr("transform", d => `translate(${xScale(d[0])},${yScale(d[1])})`)
    .attr("stroke", "#2a2a2a").attr("stroke-width", 1.1).attr("fill", "none");

  // mean lines
  const mx = xScale(p.mean), my = yScale(meanPHSS);
  g.append("line")
    .attr("x1", mx).attr("x2", mx).attr("y1", p.bottom).attr("y2", p.top)
    .attr("stroke", "#000").attr("stroke-width", 1.6).attr("stroke-dasharray", "3,2");
  g.append("line")
    .attr("x1", p.left).attr("x2", p.right).attr("y1", my).attr("y2", my)
    .attr("stroke", "#000").attr("stroke-width", 1.6).attr("stroke-dasharray", "3,2");
  g.append("path").attr("d", diamond).attr("transform", `translate(${mx},${p.top})`).attr("fill", "#000");
  g.append("path").attr("d", diamond).attr("transform", `translate(${p.right},${my})`).attr("fill", "#000");

  g.append("text")
    .attr("x", mx - 6).attr("y", p.top + 19)
    .attr("text-anchor", "end")
    .attr("font-size", 11.5).attr("font-weight", "bold")
    .text(d3.format(".2f")(p.mean));
  g.append("text")
    .attr("transform", `translate(${p.right + 5},${my}) rotate(90)`)
    .attr("text-anchor", "middle")
    .attr("font-size", 11.5).attr("font-weight", "bold")
    .text(d3.format(".2f")(meanPHSS));

  // quadrant shares
  const corners = [
    { x: p.left + 6, y: p.top + 12, anchor: "start" },
    { x: p.right + 3, y: p.top + 12, anchor: "end" },
    { x: p.left + 6, y: p.bottom - 9, anchor: "start" },
    { x: p.right + 3, y: p.bottom - 9, anchor: "end" }
  ];
  p.shares.forEach((s, i) => {
    const c = corners[i];
    const lg = g.append("g");
    const t = lg.append("text")
      .attr("x", c.x).attr("y", c.y).attr("dy", "0.35em")
      .attr("text-anchor", c.anchor)
      .attr("font-size", 11).attr("fill", "#fff")
      .text(s);
    const b = t.node().getBBox();
    lg.insert("rect", "text")
      .attr("x", b.x - 2).attr("y", c.y - 5.5)
      .attr("width", b.width + 4).attr("height", 11)
      .attr("fill", "#d6163c");
  });

  // axis titles
  const yt = g.append("text")
    .attr("transform", `translate(${p.left - 26},${(p.top + p.bottom) / 2}) rotate(-90)`)
    .attr("text-anchor", "middle")
    .attr("font-size", 11).attr("font-weight", "bold");
  yt.append("tspan").text("PHSS");
  yt.append("tspan").attr("font-size", 8).attr("dy", 3).text("w");
  yt.append("tspan").attr("dy", -3).text(" (%)");

  g.append("text")
    .attr("x", p.titleX).attr("y", p.titleY)
    .attr("text-anchor", "middle")
    .attr("font-size", 11).attr("font-weight", "bold")
    .text(p.title);
}

panels.forEach(drawPanel);
</script>
</body>
</html>
